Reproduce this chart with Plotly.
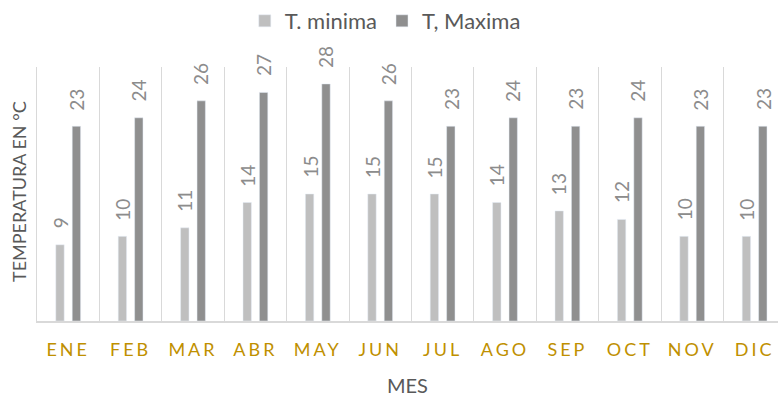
import plotly.graph_objects as go

# Monthly temperatures (°C)
meses = ["ENE", "FEB", "MAR", "ABR", "MAY", "JUN", "JUL", "AGO", "SEP", "OCT", "NOV", "DIC"]
t_minima = [9, 10, 11, 14, 15, 15, 15, 14, 13, 12, 10, 10]
t_maxima = [23, 24, 26, 27, 28, 26, 23, 24, 23, 24, 23, 23]

FONT = "Lato"
COL_MIN = "#BFBFBF"
COL_MAX = "#8F8F8F"
GRID = "#D9D9D9"
GOLD = "#BF9000"

fig = go.Figure()
fig.add_trace(go.Bar(name="T. minima", x=meses, y=t_minima, marker_color=COL_MIN))
fig.add_trace(go.Bar(name="T, Maxima", x=meses, y=t_maxima, marker_color=COL_MAX))

# Rotated value labels above each bar
OFFSET = 8.2
for serie, dx in ((t_minima, -OFFSET), (t_maxima, OFFSET)):
    for mes, v in zip(meses, serie):
        fig.add_annotation(
            x=mes, y=v, xref="x", yref="y", text=str(v), showarrow=False,
            textangle=-90, xanchor="center", yanchor="bottom",
            xshift=dx, yshift=14,
            font=dict(family=FONT, size=19, color="#8C8C8C"),
        )

# Axis titles
fig.add_annotation(
    x=0.5, y=0, xref="paper", yref="paper", yshift=-64, yanchor="middle",
    text="MES", showarrow=False,
    font=dict(family=FONT, size=20, color="#595959"),
)
fig.add_annotation(
    x=0, y=0.5, xref="paper", yref="paper", xshift=-18, yshift=2,
    xanchor="center", text="TEMPERATURA EN °C", textangle=-90, showarrow=False,
    font=dict(family=FONT, size=18, color="#595959"),
)

fig.update_layout(
    width=778, height=397,
    margin=dict(l=37, r=0, t=67, b=76),
    paper_bgcolor="white", plot_bgcolor="white",
    barmode="group", bargap=0.474, bargroupgap=0.49,
    showlegend=True,
    legend=dict(
        orientation="h", x=0.47, xanchor="center", y=1.0, yref="container",
        yanchor="top", font=dict(family=FONT, size=22, color="#595959"),
        itemwidth=30, tracegroupgap=0,
    ),
    xaxis=dict(
        type="category", range=[-0.5, 11.375], tickson="boundaries",
        showgrid=True, gridcolor=GRID, gridwidth=1,
        showline=True, linecolor=GRID, linewidth=1.5,
        ticks="", tickvals=meses,
        ticktext=[f'<span style="letter-spacing:3px">{m}</span>' for m in meses],
        tickfont=dict(family=FONT, size=18, color=GOLD),
        ticklabelstandoff=12,
    ),
    yaxis=dict(
        range=[0, 30], showgrid=False, zeroline=False,
        showticklabels=False, ticks="",
        showline=True, linecolor=GRID, linewidth=1,
    ),
)

fig.write_html("out.html")
